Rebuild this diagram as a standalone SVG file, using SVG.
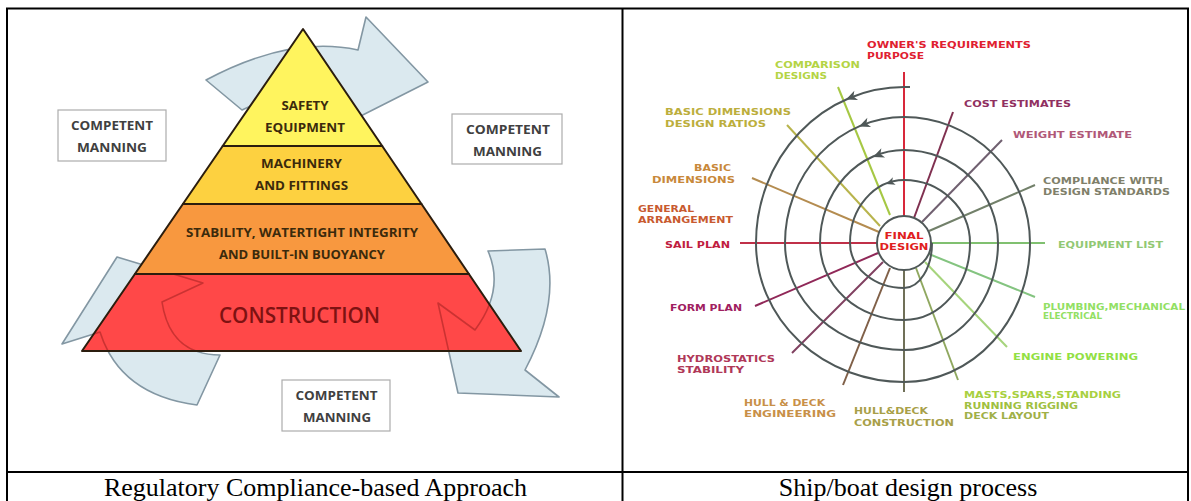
<svg xmlns="http://www.w3.org/2000/svg" width="1191" height="501" viewBox="0 0 1191 501">
<style>
.border{stroke:#000;stroke-width:2;fill:none}
.cap{font-family:"Liberation Serif","Times New Roman",serif;font-size:26px;fill:#000;text-anchor:middle}
.cmr{fill:#fff;stroke:#acacac;stroke-width:1.2}
.cmt{font-family:"Open Sans","Liberation Sans",sans-serif;font-weight:700;font-size:11.5px;fill:#404040;text-anchor:middle}
.arw{fill:#dbe9ef;stroke:#8397a3;stroke-width:1.6;stroke-linejoin:round}
.arwo{fill:none;stroke:#b52a2a;stroke-width:1.6;stroke-linejoin:round;stroke-opacity:0.7}
.band{stroke:#2b1d0e;stroke-width:2;stroke-linejoin:round}
.pt{font-family:"Open Sans","Liberation Sans",sans-serif;font-weight:700;font-size:12px;fill:#3b2a0c;text-anchor:middle}
.big{font-family:"Open Sans","Liberation Sans",sans-serif;font-weight:600;font-size:22px;fill:#7e1212;text-anchor:middle}
.lbl{font-family:"DejaVu Sans","Liberation Sans",sans-serif;font-weight:bold;font-size:9.5px}
.spk{stroke-width:2;fill:none}
.spiral{fill:none;stroke:#4f5858;stroke-width:2}
.ah{fill:#4f5858}
</style>
<defs>
<path id="head" d="M0,0 L-11,-5 L-8,0 L-11,5 Z"/>
<path id="arrowR" d="M488,251 L545,249 Q561,302 525,370 L559,397 L458,393 L438,303 L475,330 Q505,290 488,251 Z"/>
<path id="arrowL" d="M117,257 L62,344 L100,332 Q120,395 197,405 L220,355 Q170,355 162,302 L203,283 Z"/>
<clipPath id="redClip"><polygon points="134.9,274 468.9,274 521,351 82,351"/></clipPath>
</defs>
<rect width="1191" height="501" fill="#fff"/>

<g id="table">
<line class="border" x1="6" y1="8.5" x2="1189" y2="8.5"/>
<line class="border" x1="7" y1="8" x2="7" y2="501"/>
<line class="border" x1="1188" y1="8" x2="1188" y2="501"/>
<line class="border" x1="622.5" y1="8" x2="622.5" y2="501"/>
<line class="border" x1="6" y1="472" x2="1189" y2="472"/>
</g>

<g id="captions">
<text class="cap" x="315.5" y="496">Regulatory Compliance-based Approach</text>
<text class="cap" x="908" y="496">Ship/boat design process</text>
</g>

<!-- LEFT PANEL -->
<g id="cycle-arrows">
<path class="arw" d="M206,80 Q290,35 358,50 L366,17 L428,82 L339,127 L347,96 Q300,82 242,110 Z"/>
<use href="#arrowR" class="arw"/>
<use href="#arrowL" class="arw"/>
</g>

<g id="pyramid">
<g id="level-safety">
<polygon class="band" points="303,29 382.2,146 222.7,146" fill="#fff45e"/>
<text class="pt" x="305" y="110" textLength="47" lengthAdjust="spacingAndGlyphs">SAFETY</text>
<text class="pt" x="305" y="132" textLength="80" lengthAdjust="spacingAndGlyphs">EQUIPMENT</text>
</g>
<g id="level-machinery">
<polygon class="band" points="222.7,146 382.2,146 421.5,204 182.9,204" fill="#fdd140"/>
<text class="pt" x="301.5" y="168" textLength="81" lengthAdjust="spacingAndGlyphs">MACHINERY</text>
<text class="pt" x="301.5" y="190" textLength="93" lengthAdjust="spacingAndGlyphs">AND FITTINGS</text>
</g>
<g id="level-stability">
<polygon class="band" points="182.9,204 421.5,204 468.9,274 134.9,274" fill="#f8983f"/>
<text class="pt" x="302" y="237" textLength="232" lengthAdjust="spacingAndGlyphs">STABILITY, WATERTIGHT INTEGRITY</text>
<text class="pt" x="302" y="259" textLength="166" lengthAdjust="spacingAndGlyphs">AND BUILT-IN BUOYANCY</text>
</g>
<g id="level-construction">
<polygon points="134.9,274 468.9,274 521,351 82,351" fill="#ff4848"/>
<g clip-path="url(#redClip)">
<use href="#arrowR" class="arwo"/>
<use href="#arrowL" class="arwo"/>
</g>
<polygon class="band" points="134.9,274 468.9,274 521,351 82,351" fill="none"/>
<text class="big" x="299.5" y="323" textLength="161" lengthAdjust="spacingAndGlyphs">CONSTRUCTION</text>
</g>
</g>

<g id="manning-left">
<rect class="cmr" x="58" y="110" width="108" height="51"/>
<text class="cmt" x="112" y="130" textLength="82" lengthAdjust="spacingAndGlyphs">COMPETENT</text>
<text class="cmt" x="112" y="152" textLength="70" lengthAdjust="spacingAndGlyphs">MANNING</text>
</g>
<g id="manning-right">
<rect class="cmr" x="452" y="114" width="110" height="50"/>
<text class="cmt" x="508" y="134" textLength="84" lengthAdjust="spacingAndGlyphs">COMPETENT</text>
<text class="cmt" x="507.5" y="156" textLength="69" lengthAdjust="spacingAndGlyphs">MANNING</text>
</g>
<g id="manning-bottom">
<rect class="cmr" x="282" y="380" width="108" height="51"/>
<text class="cmt" x="336.5" y="400" textLength="82" lengthAdjust="spacingAndGlyphs">COMPETENT</text>
<text class="cmt" x="337" y="422" textLength="68" lengthAdjust="spacingAndGlyphs">MANNING</text>
</g>

<!-- RIGHT PANEL -->
<g id="spokes">
<line class="spk" stroke="#d8283a" x1="904" y1="72" x2="904" y2="216"/>
<line class="spk" stroke="#a6c844" x1="838" y1="87" x2="890" y2="215"/>
<line class="spk" stroke="#b8b44c" x1="787" y1="125" x2="880" y2="226"/>
<line class="spk" stroke="#b48c50" x1="752" y1="178" x2="879" y2="232"/>
<line class="spk" stroke="#c03048" x1="740" y1="243" x2="877" y2="243"/>
<line class="spk" stroke="#902858" x1="755" y1="306" x2="878" y2="253"/>
<line class="spk" stroke="#804060" x1="792" y1="353" x2="883" y2="262"/>
<line class="spk" stroke="#806048" x1="843" y1="385" x2="890" y2="268"/>
<line class="spk" stroke="#707058" x1="904" y1="392" x2="904" y2="270"/>
<line class="spk" stroke="#90a860" x1="958" y1="380" x2="916" y2="268"/>
<line class="spk" stroke="#a6d47c" x1="1007" y1="347" x2="925" y2="262"/>
<line class="spk" stroke="#84c480" x1="1035" y1="297" x2="929" y2="254"/>
<line class="spk" stroke="#80c070" x1="931" y1="243" x2="1045" y2="243"/>
<line class="spk" stroke="#72806a" x1="1035" y1="185" x2="929" y2="231"/>
<line class="spk" stroke="#706070" x1="1002" y1="140" x2="922" y2="222"/>
<line class="spk" stroke="#803050" x1="953" y1="112" x2="914" y2="218"/>
</g>

<g id="spiral">
<path class="spiral" d="M910,87 L904,87 A148,156 0 0 0 756,243 A148,139 0 0 0 904,382 A126,139 0 0 0 1030,243 A126,126 0 0 0 904,117 A119,126 0 0 0 785,243 A119,107 0 0 0 904,350 A94,107 0 0 0 998,243 A94,93 0 0 0 904,150 A84,93 0 0 0 820,243 A84,77 0 0 0 904,320 A66,77 0 0 0 970,243 A66,63 0 0 0 904,180 A54,63 0 0 0 850,243 A54,45 0 0 0 904,288 A28,45 0 0 0 932,243"/>
<use href="#head" class="ah" transform="translate(846,99.5) rotate(158)"/>
<use href="#head" class="ah" transform="translate(859,126.5) rotate(158)"/>
<use href="#head" class="ah" transform="translate(873,157) rotate(158)"/>
<use href="#head" class="ah" transform="translate(886,184) rotate(160) scale(0.8)"/>
</g>

<g id="final-design">
<circle cx="904" cy="243" r="27" fill="#fff" stroke="#4f5858" stroke-width="2"/>
<text class="lbl" fill="#e02020" x="904" y="239" text-anchor="middle" textLength="39" lengthAdjust="spacingAndGlyphs">FINAL</text>
<text class="lbl" fill="#e02020" x="904" y="250" text-anchor="middle" textLength="49" lengthAdjust="spacingAndGlyphs">DESIGN</text>
</g>

<g id="lbl-owner"><text class="lbl" fill="#e02030" x="867" y="48" textLength="164" lengthAdjust="spacingAndGlyphs">OWNER'S REQUIREMENTS</text><text class="lbl" fill="#e02030" x="867" y="59" textLength="57" lengthAdjust="spacingAndGlyphs">PURPOSE</text></g>
<g id="lbl-comparison"><text class="lbl" fill="#b4d444" x="775" y="68" textLength="85" lengthAdjust="spacingAndGlyphs">COMPARISON</text><text class="lbl" fill="#b4d444" x="775" y="79" textLength="52" lengthAdjust="spacingAndGlyphs">DESIGNS</text></g>
<g id="lbl-ratios"><text class="lbl" fill="#bcae3c" x="665" y="115" textLength="126" lengthAdjust="spacingAndGlyphs">BASIC DIMENSIONS</text><text class="lbl" fill="#bcae3c" x="665" y="127" textLength="101" lengthAdjust="spacingAndGlyphs">DESIGN RATIOS</text></g>
<g id="lbl-basic"><text class="lbl" fill="#c8883a" x="694" y="171" textLength="37" lengthAdjust="spacingAndGlyphs">BASIC</text><text class="lbl" fill="#c8883a" x="652" y="183" textLength="83" lengthAdjust="spacingAndGlyphs">DIMENSIONS</text></g>
<g id="lbl-ga"><text class="lbl" fill="#c85a30" x="638" y="212" textLength="56" lengthAdjust="spacingAndGlyphs">GENERAL</text><text class="lbl" fill="#c85a30" x="638" y="223" textLength="95" lengthAdjust="spacingAndGlyphs">ARRANGEMENT</text></g>
<g id="lbl-sail"><text class="lbl" fill="#c02040" x="665" y="248" textLength="65" lengthAdjust="spacingAndGlyphs">SAIL PLAN</text></g>
<g id="lbl-form"><text class="lbl" fill="#a02060" x="670" y="311" textLength="72" lengthAdjust="spacingAndGlyphs">FORM PLAN</text></g>
<g id="lbl-hydro"><text class="lbl" fill="#b03858" x="677" y="362" textLength="98" lengthAdjust="spacingAndGlyphs">HYDROSTATICS</text><text class="lbl" fill="#b03858" x="677" y="373" textLength="67" lengthAdjust="spacingAndGlyphs">STABILITY</text></g>
<g id="lbl-hulleng"><text class="lbl" fill="#c89048" x="744" y="406" textLength="81" lengthAdjust="spacingAndGlyphs">HULL &amp; DECK</text><text class="lbl" fill="#c89048" x="744" y="417" textLength="92" lengthAdjust="spacingAndGlyphs">ENGINEERING</text></g>
<g id="lbl-hullcon"><text class="lbl" fill="#a8a048" x="854" y="414" textLength="74" lengthAdjust="spacingAndGlyphs">HULL&amp;DECK</text><text class="lbl" fill="#a8a048" x="854" y="426" textLength="100" lengthAdjust="spacingAndGlyphs">CONSTRUCTION</text></g>
<g id="lbl-masts"><text class="lbl" fill="#a8d040" x="964" y="398" textLength="157" lengthAdjust="spacingAndGlyphs">MASTS,SPARS,STANDING</text><text class="lbl" fill="#a0c040" x="964" y="409" textLength="114" lengthAdjust="spacingAndGlyphs">RUNNING RIGGING</text><text class="lbl" fill="#a0b048" x="964" y="419" textLength="85" lengthAdjust="spacingAndGlyphs">DECK LAYOUT</text></g>
<g id="lbl-engine"><text class="lbl" fill="#92e044" x="1013" y="360" textLength="125" lengthAdjust="spacingAndGlyphs">ENGINE POWERING</text></g>
<g id="lbl-plumbing"><text class="lbl" fill="#92e064" x="1043" y="310" font-size="8.5" textLength="142" lengthAdjust="spacingAndGlyphs">PLUMBING,MECHANICAL</text><text class="lbl" fill="#92e064" x="1043" y="319" font-size="8.5" textLength="59" lengthAdjust="spacingAndGlyphs">ELECTRICAL</text></g>
<g id="lbl-equipment"><text class="lbl" fill="#92c874" x="1058" y="248" textLength="105" lengthAdjust="spacingAndGlyphs">EQUIPMENT LIST</text></g>
<g id="lbl-compliance"><text class="lbl" fill="#80806a" x="1043" y="184" textLength="120" lengthAdjust="spacingAndGlyphs">COMPLIANCE WITH</text><text class="lbl" fill="#80806a" x="1043" y="195" textLength="127" lengthAdjust="spacingAndGlyphs">DESIGN STANDARDS</text></g>
<g id="lbl-weight"><text class="lbl" fill="#b05878" x="1013" y="138" textLength="119" lengthAdjust="spacingAndGlyphs">WEIGHT ESTIMATE</text></g>
<g id="lbl-cost"><text class="lbl" fill="#903060" x="964" y="107" textLength="107" lengthAdjust="spacingAndGlyphs">COST ESTIMATES</text></g>
</svg>
